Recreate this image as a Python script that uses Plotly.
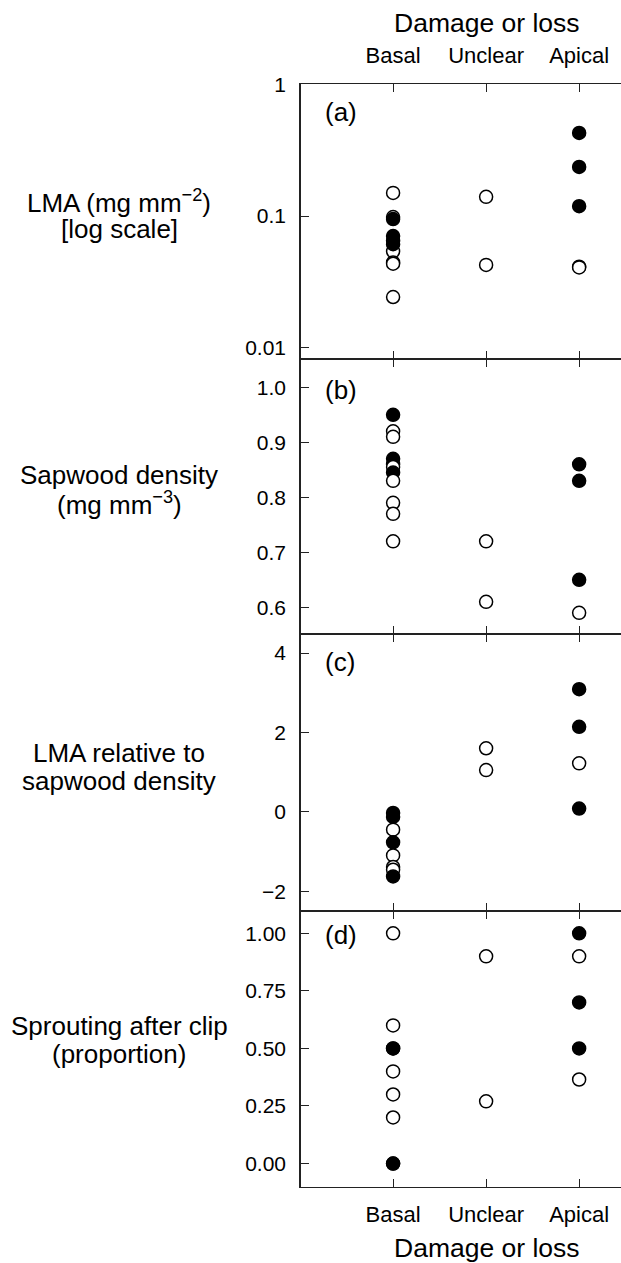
import plotly.graph_objects as go

# ---------------- data ----------------
categories = ["Basal", "Unclear", "Apical"]

# (a) LMA (mg mm-2), log scale
lma_group = ["Basal"] * 10 + ["Unclear"] * 2 + ["Apical"] * 5
lma_value = [0.150, 0.0983, 0.0540, 0.0445, 0.0435, 0.0243, 0.0949, 0.0705, 0.0650, 0.0612,
             0.140, 0.0426,
             0.0413, 0.0408, 0.428, 0.236, 0.119]
lma_filled = [False, False, False, False, False, False, True, True, True, True,
              False, False,
              False, False, True, True, True]

# (b) Sapwood density (mg mm-3)
sap_group = ["Basal"] * 11 + ["Unclear"] * 2 + ["Apical"] * 4
sap_value = [0.95, 0.92, 0.91, 0.87, 0.86, 0.855, 0.845, 0.83, 0.79, 0.77, 0.72,
             0.72, 0.61,
             0.86, 0.83, 0.65, 0.59]
sap_filled = [True, False, False, True, True, False, True, False, False, False, False,
              False, False,
              True, True, True, False]

# (c) LMA relative to sapwood density
rel_group = ["Basal"] * 8 + ["Unclear"] * 2 + ["Apical"] * 4
rel_value = [-0.03, -0.13, -0.45, -0.77, -1.10, -1.39, -1.46, -1.63,
             1.60, 1.05,
             3.09, 2.14, 1.22, 0.08]
rel_filled = [True, True, False, True, False, False, False, True,
              False, False,
              True, True, False, True]

# (d) Sprouting after clip (proportion)
spr_group = ["Basal"] * 9 + ["Unclear"] * 2 + ["Apical"] * 5
spr_value = [1.00, 0.60, 0.40, 0.30, 0.20, 0.50, 0.50, 0.00, 0.00,
             0.90, 0.27,
             0.90, 0.365, 1.00, 0.70, 0.50]
spr_filled = [False, False, False, False, False, True, True, True, True,
              False, False,
              False, False, True, True, True]

lma_ticks = [0.01, 0.1, 1]
lma_ticktext = ["0.01", "0.1", "1"]
sap_ticks = [0.6, 0.7, 0.8, 0.9, 1.0]
sap_ticktext = ["0.6", "0.7", "0.8", "0.9", "1.0"]
rel_ticks = [-2, 0, 2, 4]
rel_ticktext = ["\u22122", "0", "2", "4"]
spr_ticks = [0.0, 0.25, 0.5, 0.75, 1.0]
spr_ticktext = ["0.00", "0.25", "0.50", "0.75", "1.00"]

# ---------------- layout helpers ----------------
W, H = 621, 1263
L, R, T, B = 301, 0, 84, 76
PW, PH = W - L - R, H - T - B


def px_x(x):
    return (x - L) / PW


def px_y(y):
    return (H - B - y) / PH


FONT = "Liberation Sans, Arial, Helvetica, sans-serif"
LINE_COLOR = "#222222"

panels = [
    (lma_group, lma_value, lma_filled),
    (sap_group, sap_value, sap_filled),
    (rel_group, rel_value, rel_filled),
    (spr_group, spr_value, spr_filled),
]
domains = [(px_y(359), 1.0), (px_y(634), px_y(359)), (px_y(911), px_y(634)), (0.0, px_y(911))]

fig = go.Figure()
for i, (g, v, f) in enumerate(panels):
    suffix = "" if i == 0 else str(i + 1)
    fig.add_trace(go.Scatter(
        x=g, y=v, mode="markers",
        xaxis="x" + suffix, yaxis="y" + suffix,
        marker=dict(size=13, color=["black" if k else "white" for k in f],
                    line=dict(color="black", width=1.5)),
        showlegend=False, hoverinfo="x+y",
    ))

common_x = dict(type="category", categoryorder="array", categoryarray=categories,
                range=[-0.99, 2.45], showgrid=False, zeroline=False, showline=True,
                linecolor=LINE_COLOR, linewidth=1, mirror="ticks", ticks="inside",
                ticklen=8, tickwidth=1.2, tickcolor=LINE_COLOR,
                tickfont=dict(family=FONT, size=22, color="black"))
common_y = dict(showgrid=False, zeroline=False, showline=True, linecolor=LINE_COLOR,
                linewidth=1.5, mirror=False, ticks="inside", ticklen=8, tickwidth=1.2,
                tickcolor=LINE_COLOR, tickfont=dict(family=FONT, size=21, color="black"),
                ticklabelstandoff=9)

yspecs = [
    dict(type="log", range=[-2.085, 0.003], tickvals=lma_ticks, ticktext=lma_ticktext),
    dict(range=[0.5515, 1.0515], tickvals=sap_ticks, ticktext=sap_ticktext),
    dict(range=[-2.5, 4.48], tickvals=rel_ticks, ticktext=rel_ticktext),
    dict(range=[-0.102, 1.097], tickvals=spr_ticks, ticktext=spr_ticktext),
]

layout = dict(width=W, height=H, margin=dict(l=L, r=R, t=T, b=B),
              paper_bgcolor="white", plot_bgcolor="white",
              font=dict(family=FONT, color="black"))
for i in range(4):
    suffix = "" if i == 0 else str(i + 1)
    xa = dict(common_x, anchor="y" + suffix, domain=[0, 1])
    if i == 0:
        xa.update(side="top", showticklabels=True, ticklabelstandoff=11)
    elif i == 3:
        xa.update(side="bottom", showticklabels=True, ticklabelstandoff=8)
    else:
        xa.update(showticklabels=False)
    if i > 0:
        xa["matches"] = "x"
    ya = dict(common_y, anchor="x" + suffix, domain=list(domains[i]), **yspecs[i])
    layout["xaxis" + suffix] = xa
    layout["yaxis" + suffix] = ya
fig.update_layout(**layout)

ann = []
# axis titles
ann.append(dict(text="Damage or loss", x=px_x(487), y=px_y(23), font=dict(size=26.5)))
ann.append(dict(text="Damage or loss", x=px_x(487), y=px_y(1248), font=dict(size=26.5)))
# panel letters
for lbl, yy in [("(a)", 112), ("(b)", 390), ("(c)", 662), ("(d)", 935)]:
    ann.append(dict(text=lbl, x=px_x(323), y=px_y(yy), xanchor="left", font=dict(size=26)))
# left y labels (two lines each)
ylabels = [
    ("LMA (mg mm<sup>\u22122</sup>)", "[log scale]", 201),
    ("Sapwood density", "(mg mm<sup>\u22123</sup>)", 475),
    ("LMA relative to", "sapwood density", 753),
    ("Sprouting after clip", "(proportion)", 1026),
]
for l1, l2, yy in ylabels:
    ann.append(dict(text=l1, x=px_x(119), y=px_y(yy), font=dict(size=26)))
    ann.append(dict(text=l2, x=px_x(119), y=px_y(yy + 28), font=dict(size=26)))

for a in ann:
    a.update(xref="paper", yref="paper", showarrow=False)
    a.setdefault("xanchor", "center")
    a.setdefault("yanchor", "middle")
    a["font"] = dict(family=FONT, color="black", **a["font"])
fig.update_layout(annotations=ann)

fig.write_html("out.html", config={"displayModeBar": False},
               post_script="document.body.style.margin='0';document.body.style.overflow='hidden';")
